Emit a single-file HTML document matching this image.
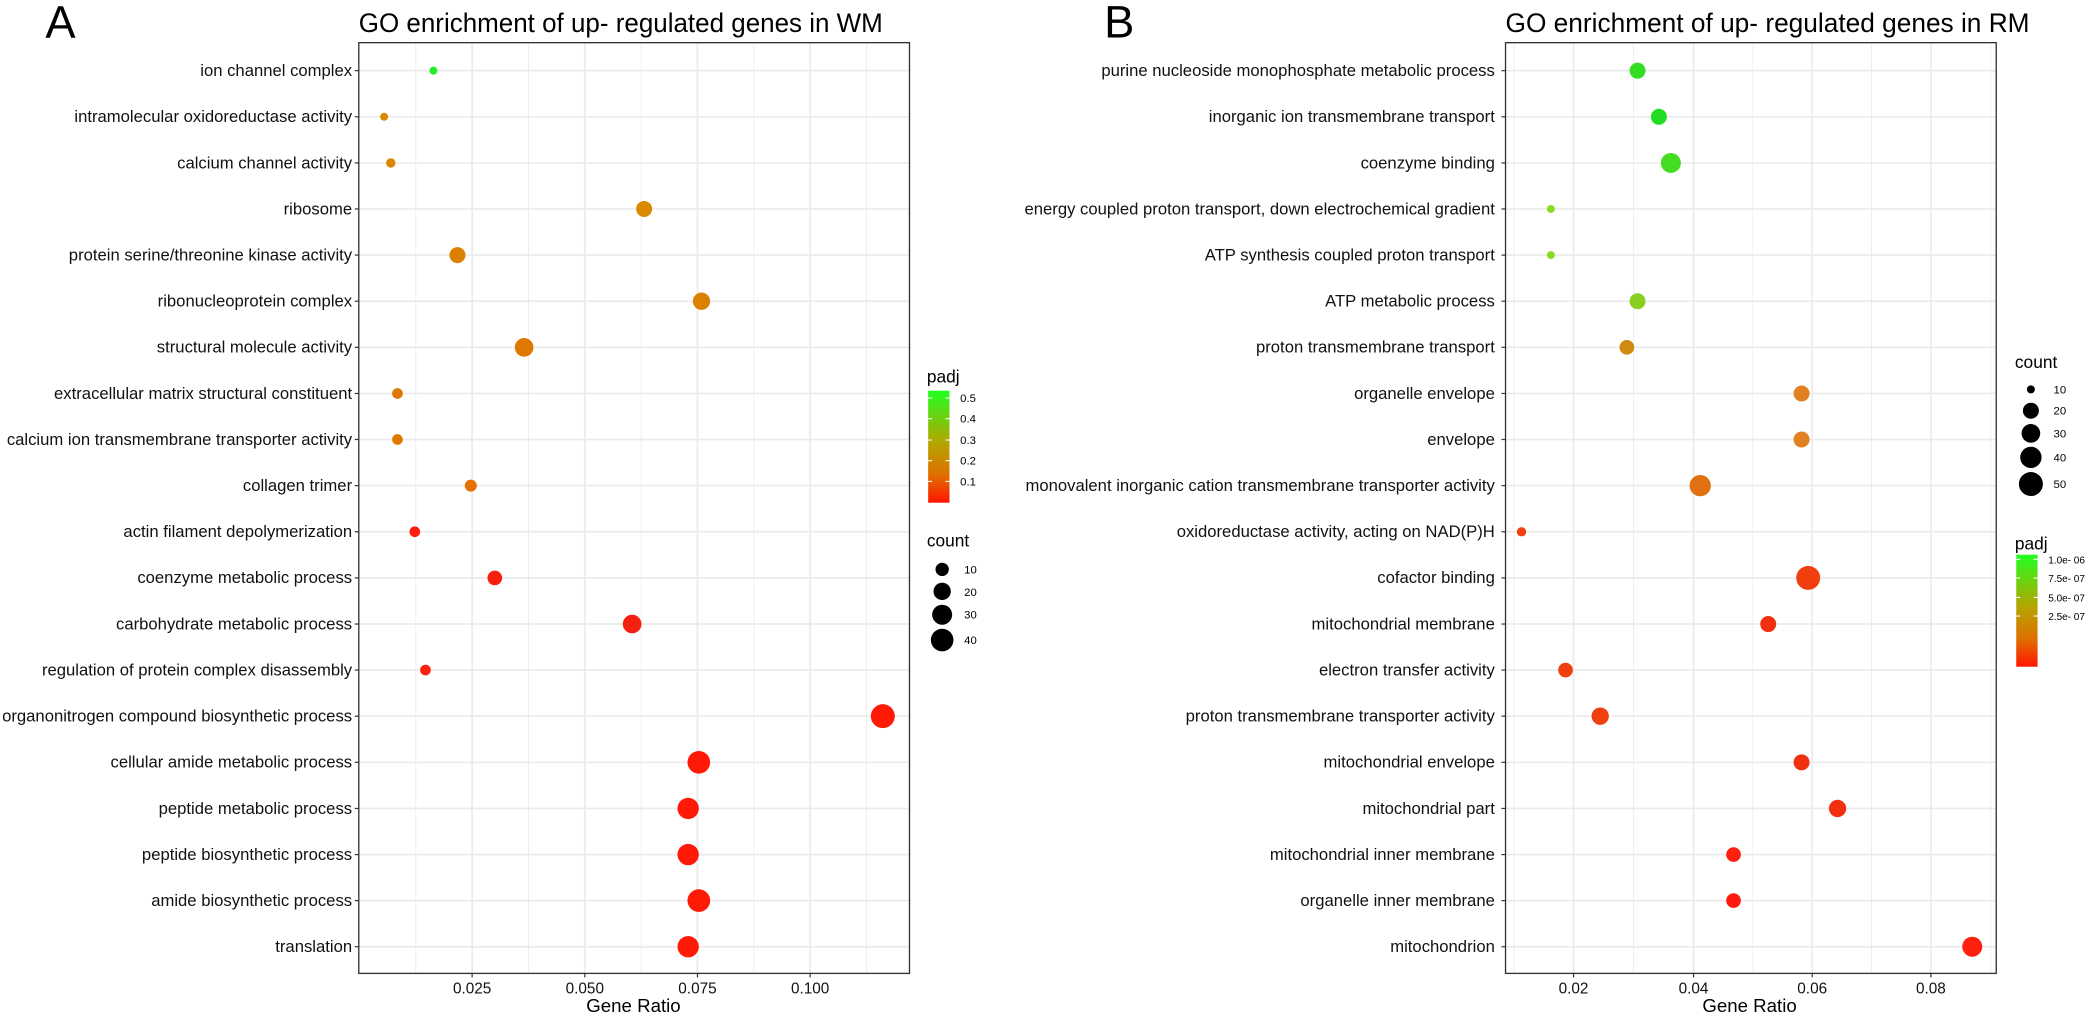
<!DOCTYPE html>
<html><head><meta charset="utf-8"><style>html,body{margin:0;padding:0;background:#fff}svg{display:block}</style></head><body>
<svg width="2091" height="1015" viewBox="0 0 1568 761.2" xmlns="http://www.w3.org/2000/svg" font-family="Liberation Sans, Arial, sans-serif">
<defs>
<linearGradient id="ga" x1="0" y1="0" x2="0" y2="1"><stop offset="0" stop-color="#22ff22"/><stop offset="0.45" stop-color="#b0a800"/><stop offset="0.75" stop-color="#e07000"/><stop offset="1" stop-color="#ff1500"/></linearGradient>
</defs>
<rect width="1568" height="761.2" fill="#fff"/>
<!-- Panel A -->
<text x="34" y="28" font-size="34">A</text>
<text x="269" y="24" font-size="20" textLength="393" lengthAdjust="spacingAndGlyphs">GO enrichment of up- regulated  genes in WM</text>
<g stroke="#ebebeb">
<g stroke-width="0.6"><line x1="311.75" y1="32" x2="311.75" y2="730"/><line x1="396.25" y1="32" x2="396.25" y2="730"/><line x1="480.75" y1="32" x2="480.75" y2="730"/><line x1="565.25" y1="32" x2="565.25" y2="730"/><line x1="649.75" y1="32" x2="649.75" y2="730"/></g>
<g stroke-width="1.3"><line x1="354" y1="32" x2="354" y2="730"/><line x1="438.5" y1="32" x2="438.5" y2="730"/><line x1="523" y1="32" x2="523" y2="730"/><line x1="607.5" y1="32" x2="607.5" y2="730"/>
<line x1="269" y1="53" x2="682" y2="53"/><line x1="269" y1="87.6" x2="682" y2="87.6"/><line x1="269" y1="122.2" x2="682" y2="122.2"/><line x1="269" y1="156.7" x2="682" y2="156.7"/><line x1="269" y1="191.3" x2="682" y2="191.3"/><line x1="269" y1="225.9" x2="682" y2="225.9"/><line x1="269" y1="260.5" x2="682" y2="260.5"/><line x1="269" y1="295.1" x2="682" y2="295.1"/><line x1="269" y1="329.6" x2="682" y2="329.6"/><line x1="269" y1="364.2" x2="682" y2="364.2"/><line x1="269" y1="398.8" x2="682" y2="398.8"/><line x1="269" y1="433.4" x2="682" y2="433.4"/><line x1="269" y1="468" x2="682" y2="468"/><line x1="269" y1="502.5" x2="682" y2="502.5"/><line x1="269" y1="537.1" x2="682" y2="537.1"/><line x1="269" y1="571.7" x2="682" y2="571.7"/><line x1="269" y1="606.3" x2="682" y2="606.3"/><line x1="269" y1="640.9" x2="682" y2="640.9"/><line x1="269" y1="675.4" x2="682" y2="675.4"/><line x1="269" y1="710" x2="682" y2="710"/></g>
</g>
<rect x="269" y="32" width="413" height="698" fill="none" stroke="#333" stroke-width="1"/>
<g stroke="#333" stroke-width="0.9">
<line x1="266" y1="53" x2="269" y2="53"/><line x1="266" y1="87.6" x2="269" y2="87.6"/><line x1="266" y1="122.2" x2="269" y2="122.2"/><line x1="266" y1="156.7" x2="269" y2="156.7"/><line x1="266" y1="191.3" x2="269" y2="191.3"/><line x1="266" y1="225.9" x2="269" y2="225.9"/><line x1="266" y1="260.5" x2="269" y2="260.5"/><line x1="266" y1="295.1" x2="269" y2="295.1"/><line x1="266" y1="329.6" x2="269" y2="329.6"/><line x1="266" y1="364.2" x2="269" y2="364.2"/><line x1="266" y1="398.8" x2="269" y2="398.8"/><line x1="266" y1="433.4" x2="269" y2="433.4"/><line x1="266" y1="468" x2="269" y2="468"/><line x1="266" y1="502.5" x2="269" y2="502.5"/><line x1="266" y1="537.1" x2="269" y2="537.1"/><line x1="266" y1="571.7" x2="269" y2="571.7"/><line x1="266" y1="606.3" x2="269" y2="606.3"/><line x1="266" y1="640.9" x2="269" y2="640.9"/><line x1="266" y1="675.4" x2="269" y2="675.4"/><line x1="266" y1="710" x2="269" y2="710"/>
<line x1="354" y1="730" x2="354" y2="733"/><line x1="438.5" y1="730" x2="438.5" y2="733"/><line x1="523" y1="730" x2="523" y2="733"/><line x1="607.5" y1="730" x2="607.5" y2="733"/>
</g>
<g font-size="12.5" text-anchor="end" fill="#111">
<text x="264" y="57">ion channel complex</text>
<text x="264" y="91.6">intramolecular oxidoreductase activity</text>
<text x="264" y="126.2">calcium channel activity</text>
<text x="264" y="160.7">ribosome</text>
<text x="264" y="195.3">protein serine/threonine kinase activity</text>
<text x="264" y="229.9">ribonucleoprotein complex</text>
<text x="264" y="264.5">structural molecule activity</text>
<text x="264" y="299.1">extracellular matrix structural constituent</text>
<text x="264" y="333.6">calcium ion transmembrane transporter activity</text>
<text x="264" y="368.2">collagen trimer</text>
<text x="264" y="402.8">actin filament depolymerization</text>
<text x="264" y="437.4">coenzyme metabolic process</text>
<text x="264" y="472">carbohydrate metabolic process</text>
<text x="264" y="506.5">regulation of protein complex disassembly</text>
<text x="264" y="541.1">organonitrogen compound biosynthetic process</text>
<text x="264" y="575.7">cellular amide metabolic process</text>
<text x="264" y="610.3">peptide metabolic process</text>
<text x="264" y="644.9">peptide biosynthetic process</text>
<text x="264" y="679.4">amide biosynthetic process</text>
<text x="264" y="714">translation</text>
</g>
<g font-size="11.5" text-anchor="middle" fill="#111"><text x="354" y="745">0.025</text><text x="438.5" y="745">0.050</text><text x="523" y="745">0.075</text><text x="607.5" y="745">0.100</text></g>
<text x="475" y="759" font-size="14" text-anchor="middle">Gene Ratio</text>
<g>
<circle cx="325" cy="53" r="3" fill="#22ee22"/>
<circle cx="288" cy="87.6" r="3" fill="#d98a00"/>
<circle cx="293" cy="122.2" r="3.5" fill="#dc8500"/>
<circle cx="483" cy="156.7" r="6" fill="#d98a00"/>
<circle cx="343" cy="191.3" r="6" fill="#dc8000"/>
<circle cx="526" cy="225.9" r="6.5" fill="#dc8000"/>
<circle cx="393" cy="260.5" r="7" fill="#e07800"/>
<circle cx="298" cy="295.1" r="4" fill="#e07800"/>
<circle cx="298" cy="329.6" r="4" fill="#e07800"/>
<circle cx="353" cy="364.2" r="4.5" fill="#e87000"/>
<circle cx="311" cy="398.8" r="4" fill="#ff1a10"/>
<circle cx="371" cy="433.4" r="5.5" fill="#f52010"/>
<circle cx="474" cy="468" r="7" fill="#f52010"/>
<circle cx="319" cy="502.5" r="4" fill="#ff2010"/>
<circle cx="662" cy="537.1" r="9" fill="#ff1a08"/>
<circle cx="524" cy="571.7" r="8.5" fill="#ff1a08"/>
<circle cx="516" cy="606.3" r="8" fill="#ff1a08"/>
<circle cx="516" cy="640.9" r="8" fill="#ff1a08"/>
<circle cx="524" cy="675.4" r="8.5" fill="#ff1a08"/>
<circle cx="516" cy="710" r="8" fill="#ff1a08"/>
</g>
<!-- Legend A -->
<text x="695" y="287" font-size="13">padj</text>
<rect x="696" y="293" width="16" height="84" fill="url(#ga)"/>
<g stroke="#fff" stroke-width="0.8"><line x1="696" y1="298.5" x2="699" y2="298.5"/><line x1="709" y1="298.5" x2="712" y2="298.5"/><line x1="696" y1="314" x2="699" y2="314"/><line x1="709" y1="314" x2="712" y2="314"/><line x1="696" y1="330" x2="699" y2="330"/><line x1="709" y1="330" x2="712" y2="330"/><line x1="696" y1="345.5" x2="699" y2="345.5"/><line x1="709" y1="345.5" x2="712" y2="345.5"/><line x1="696" y1="361" x2="699" y2="361"/><line x1="709" y1="361" x2="712" y2="361"/></g>
<g font-size="8.5"><text x="720" y="301.5">0.5</text><text x="720" y="317">0.4</text><text x="720" y="333">0.3</text><text x="720" y="348.5">0.2</text><text x="720" y="364">0.1</text></g>
<text x="695" y="410" font-size="13">count</text>
<g fill="#000"><circle cx="706.5" cy="427" r="5"/><circle cx="706.5" cy="443.5" r="6.5"/><circle cx="706.5" cy="461" r="7.5"/><circle cx="706.5" cy="480" r="8.5"/></g>
<g font-size="8.5"><text x="723" y="430">10</text><text x="723" y="447">20</text><text x="723" y="464">30</text><text x="723" y="483">40</text></g>

<!-- Panel B -->
<text x="828" y="28" font-size="34">B</text>
<text x="1129" y="24" font-size="20" textLength="393" lengthAdjust="spacingAndGlyphs">GO enrichment of up- regulated  genes in RM</text>
<g stroke="#ebebeb">
<g stroke-width="0.6"><line x1="1135.4" y1="32" x2="1135.4" y2="730"/><line x1="1225" y1="32" x2="1225" y2="730"/><line x1="1314.5" y1="32" x2="1314.5" y2="730"/><line x1="1403.5" y1="32" x2="1403.5" y2="730"/><line x1="1493" y1="32" x2="1493" y2="730"/></g>
<g stroke-width="1.3"><line x1="1180" y1="32" x2="1180" y2="730"/><line x1="1270" y1="32" x2="1270" y2="730"/><line x1="1359" y1="32" x2="1359" y2="730"/><line x1="1448" y1="32" x2="1448" y2="730"/>
<line x1="1129" y1="53" x2="1497" y2="53"/><line x1="1129" y1="87.6" x2="1497" y2="87.6"/><line x1="1129" y1="122.2" x2="1497" y2="122.2"/><line x1="1129" y1="156.7" x2="1497" y2="156.7"/><line x1="1129" y1="191.3" x2="1497" y2="191.3"/><line x1="1129" y1="225.9" x2="1497" y2="225.9"/><line x1="1129" y1="260.5" x2="1497" y2="260.5"/><line x1="1129" y1="295.1" x2="1497" y2="295.1"/><line x1="1129" y1="329.6" x2="1497" y2="329.6"/><line x1="1129" y1="364.2" x2="1497" y2="364.2"/><line x1="1129" y1="398.8" x2="1497" y2="398.8"/><line x1="1129" y1="433.4" x2="1497" y2="433.4"/><line x1="1129" y1="468" x2="1497" y2="468"/><line x1="1129" y1="502.5" x2="1497" y2="502.5"/><line x1="1129" y1="537.1" x2="1497" y2="537.1"/><line x1="1129" y1="571.7" x2="1497" y2="571.7"/><line x1="1129" y1="606.3" x2="1497" y2="606.3"/><line x1="1129" y1="640.9" x2="1497" y2="640.9"/><line x1="1129" y1="675.4" x2="1497" y2="675.4"/><line x1="1129" y1="710" x2="1497" y2="710"/></g>
</g>
<rect x="1129" y="32" width="368" height="698" fill="none" stroke="#333" stroke-width="1"/>
<g stroke="#333" stroke-width="0.9">
<line x1="1126" y1="53" x2="1129" y2="53"/><line x1="1126" y1="87.6" x2="1129" y2="87.6"/><line x1="1126" y1="122.2" x2="1129" y2="122.2"/><line x1="1126" y1="156.7" x2="1129" y2="156.7"/><line x1="1126" y1="191.3" x2="1129" y2="191.3"/><line x1="1126" y1="225.9" x2="1129" y2="225.9"/><line x1="1126" y1="260.5" x2="1129" y2="260.5"/><line x1="1126" y1="295.1" x2="1129" y2="295.1"/><line x1="1126" y1="329.6" x2="1129" y2="329.6"/><line x1="1126" y1="364.2" x2="1129" y2="364.2"/><line x1="1126" y1="398.8" x2="1129" y2="398.8"/><line x1="1126" y1="433.4" x2="1129" y2="433.4"/><line x1="1126" y1="468" x2="1129" y2="468"/><line x1="1126" y1="502.5" x2="1129" y2="502.5"/><line x1="1126" y1="537.1" x2="1129" y2="537.1"/><line x1="1126" y1="571.7" x2="1129" y2="571.7"/><line x1="1126" y1="606.3" x2="1129" y2="606.3"/><line x1="1126" y1="640.9" x2="1129" y2="640.9"/><line x1="1126" y1="675.4" x2="1129" y2="675.4"/><line x1="1126" y1="710" x2="1129" y2="710"/>
<line x1="1180" y1="730" x2="1180" y2="733"/><line x1="1270" y1="730" x2="1270" y2="733"/><line x1="1359" y1="730" x2="1359" y2="733"/><line x1="1448" y1="730" x2="1448" y2="733"/>
</g>
<g font-size="12.5" text-anchor="end" fill="#111">
<text x="1121" y="57">purine nucleoside monophosphate metabolic process</text>
<text x="1121" y="91.6">inorganic ion transmembrane transport</text>
<text x="1121" y="126.2">coenzyme binding</text>
<text x="1121" y="160.7">energy coupled proton transport, down electrochemical gradient</text>
<text x="1121" y="195.3">ATP synthesis coupled proton transport</text>
<text x="1121" y="229.9">ATP metabolic process</text>
<text x="1121" y="264.5">proton transmembrane transport</text>
<text x="1121" y="299.1">organelle envelope</text>
<text x="1121" y="333.6">envelope</text>
<text x="1121" y="368.2">monovalent inorganic cation transmembrane transporter activity</text>
<text x="1121" y="402.8">oxidoreductase activity, acting on NAD(P)H</text>
<text x="1121" y="437.4">cofactor binding</text>
<text x="1121" y="472">mitochondrial membrane</text>
<text x="1121" y="506.5">electron transfer activity</text>
<text x="1121" y="541.1">proton transmembrane transporter activity</text>
<text x="1121" y="575.7">mitochondrial envelope</text>
<text x="1121" y="610.3">mitochondrial part</text>
<text x="1121" y="644.9">mitochondrial inner membrane</text>
<text x="1121" y="679.4">organelle inner membrane</text>
<text x="1121" y="714">mitochondrion</text>
</g>
<g font-size="11.5" text-anchor="middle" fill="#111"><text x="1180" y="745">0.02</text><text x="1270" y="745">0.04</text><text x="1359" y="745">0.06</text><text x="1448" y="745">0.08</text></g>
<text x="1312" y="759" font-size="14" text-anchor="middle">Gene Ratio</text>
<g>
<circle cx="1228" cy="53" r="6" fill="#33dd22"/>
<circle cx="1244" cy="87.6" r="6" fill="#22dd22"/>
<circle cx="1253" cy="122.2" r="7.5" fill="#44dd22"/>
<circle cx="1163" cy="156.7" r="3" fill="#88dd22"/>
<circle cx="1163" cy="191.3" r="3" fill="#88dd22"/>
<circle cx="1228" cy="225.9" r="6" fill="#88d020"/>
<circle cx="1220" cy="260.5" r="5.5" fill="#d08a10"/>
<circle cx="1351" cy="295.1" r="6" fill="#e08020"/>
<circle cx="1351" cy="329.6" r="6" fill="#e08020"/>
<circle cx="1275" cy="364.2" r="8" fill="#e07010"/>
<circle cx="1141" cy="398.8" r="3.5" fill="#f04010"/>
<circle cx="1356" cy="433.4" r="9" fill="#f04010"/>
<circle cx="1326" cy="468" r="6" fill="#f03010"/>
<circle cx="1174" cy="502.5" r="5.5" fill="#f04010"/>
<circle cx="1200" cy="537.1" r="6.5" fill="#f04010"/>
<circle cx="1351" cy="571.7" r="6" fill="#f03010"/>
<circle cx="1378" cy="606.3" r="6.5" fill="#f03010"/>
<circle cx="1300" cy="640.9" r="5.5" fill="#ff2010"/>
<circle cx="1300" cy="675.4" r="5.5" fill="#ff1a10"/>
<circle cx="1479" cy="710" r="7.5" fill="#ff2010"/>
</g>
<!-- Legend B -->
<text x="1511" y="276" font-size="13">count</text>
<g fill="#000"><circle cx="1523" cy="292" r="3"/><circle cx="1523" cy="308" r="6"/><circle cx="1523" cy="325" r="7"/><circle cx="1523" cy="343" r="8"/><circle cx="1523" cy="363" r="9"/></g>
<g font-size="8.5"><text x="1540" y="295">10</text><text x="1540" y="311">20</text><text x="1540" y="328">30</text><text x="1540" y="346">40</text><text x="1540" y="366">50</text></g>
<text x="1511" y="412" font-size="13">padj</text>
<rect x="1512" y="416" width="16" height="84" fill="url(#ga)"/>
<g stroke="#fff" stroke-width="0.8"><line x1="1512" y1="419.5" x2="1515" y2="419.5"/><line x1="1525" y1="419.5" x2="1528" y2="419.5"/><line x1="1512" y1="433.5" x2="1515" y2="433.5"/><line x1="1525" y1="433.5" x2="1528" y2="433.5"/><line x1="1512" y1="448" x2="1515" y2="448"/><line x1="1525" y1="448" x2="1528" y2="448"/><line x1="1512" y1="462" x2="1515" y2="462"/><line x1="1525" y1="462" x2="1528" y2="462"/></g>
<g font-size="7.5"><text x="1536" y="422.5">1.0e- 06</text><text x="1536" y="436.5">7.5e- 07</text><text x="1536" y="451">5.0e- 07</text><text x="1536" y="465">2.5e- 07</text></g>
</svg>
</body></html>
